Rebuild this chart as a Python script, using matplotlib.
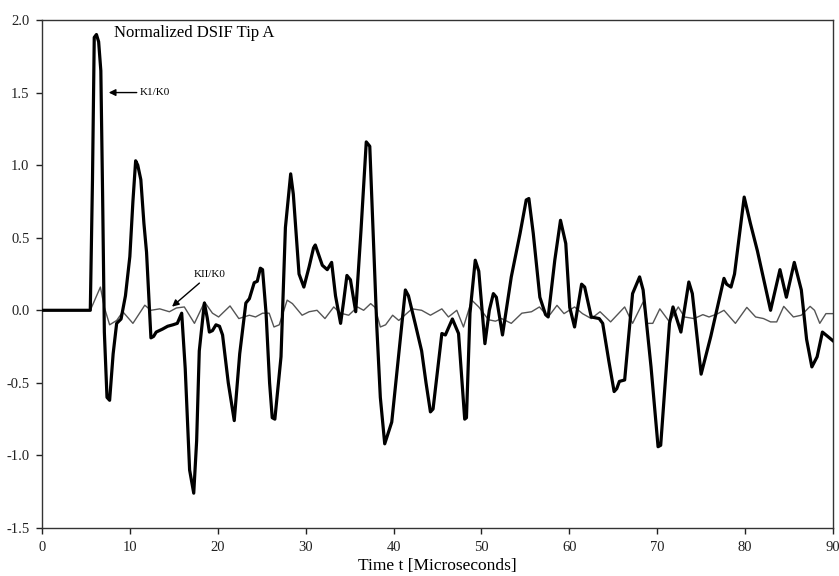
import matplotlib
matplotlib.use("Agg")
import matplotlib.pyplot as plt

plt.rcParams['font.family'] = ['Liberation Serif', 'DejaVu Serif']

k1_t = [0, 5.5, 5.75, 5.95, 6.2, 6.45, 6.7, 6.9, 7.1, 7.4, 7.7, 8.1, 8.5, 9.0, 9.5, 10.0, 10.35,
        10.66, 10.9, 11.25, 11.6, 11.9, 12.4, 12.7, 13.0, 13.7, 14.3, 14.9, 15.4, 15.9, 16.3, 16.8,
        17.27, 17.6, 17.9, 18.48, 18.8, 19.05, 19.4, 19.8, 20.2, 20.55, 21.2, 21.88, 22.5, 23.2,
        23.6, 24.15, 24.5, 24.85, 25.1, 25.5, 25.9, 26.2, 26.5, 27.2, 27.7, 28.3, 28.6, 29.25,
        29.8, 30.4, 30.9, 31.1, 31.5, 31.9, 32.46, 32.96, 33.4, 33.98, 34.3, 34.7, 35.1, 35.7,
        36.3, 36.9, 37.3, 37.7, 38.1, 38.5, 39.0, 39.8, 40.6, 41.35, 41.7, 42.5, 43.2, 43.7,
        44.2, 44.5, 45.5, 45.9, 46.7, 47.4, 48.1, 48.3, 48.7, 49.3, 49.7, 50.4, 50.9, 51.36,
        51.7, 52.4, 53.4, 54.4, 55.1, 55.4, 55.9, 56.65, 57.3, 57.6, 58.35, 59.0, 59.6, 60.05,
        60.6, 61.4, 61.75, 62.5, 63.4, 63.8, 64.5, 65.1, 65.4, 65.7, 66.3, 67.2, 68.0, 68.4,
        69.3, 70.1, 70.4, 71.4, 71.8, 72.7, 73.6, 74.0, 75.0, 76.1, 77.6, 77.9, 78.4, 78.8,
        79.9, 80.6, 81.4, 82.9, 83.97, 84.7, 85.6, 86.4, 87.0, 87.6, 88.2, 88.8, 89.8, 90.0]
k1_val = [0, 0, 0.9, 1.88, 1.9, 1.85, 1.65, 0.8, -0.15, -0.6, -0.62, -0.3, -0.09, -0.06, 0.1, 0.37, 0.75,
          1.03, 1.0, 0.9, 0.6, 0.4, -0.19, -0.18, -0.15, -0.13, -0.11, -0.10, -0.09, -0.02, -0.4, -1.10,
          -1.26, -0.9, -0.28, 0.05, -0.05, -0.15, -0.14, -0.10, -0.11, -0.17, -0.5, -0.76, -0.3, 0.05,
          0.08, 0.19, 0.2, 0.29, 0.28, -0.02, -0.5, -0.74, -0.75, -0.32, 0.57, 0.94, 0.8, 0.25,
          0.16, 0.30, 0.43, 0.45, 0.38, 0.31, 0.28, 0.33, 0.1, -0.09, 0.05, 0.24, 0.21, -0.01,
          0.55, 1.16, 1.13, 0.5, -0.115, -0.6, -0.92, -0.77, -0.3, 0.14, 0.10, -0.1, -0.28, -0.5,
          -0.70, -0.68, -0.16, -0.17, -0.06, -0.16, -0.75, -0.74, -0.02, 0.345, 0.27, -0.23, 0.0, 0.115,
          0.09, -0.17, 0.23, 0.53, 0.76, 0.77, 0.53, 0.09, -0.03, -0.046, 0.345, 0.62, 0.46, 0.02,
          -0.115, 0.18, 0.16, -0.046, -0.057, -0.09, -0.35, -0.56, -0.54, -0.49, -0.48, 0.115, 0.23, 0.14,
          -0.39, -0.94, -0.93, -0.09, 0.023, -0.15, 0.195, 0.115, -0.44, -0.18, 0.22, 0.18, 0.16, 0.25,
          0.78, 0.6, 0.41, 0.0, 0.28, 0.09, 0.33, 0.14, -0.2, -0.39, -0.32, -0.15, -0.20, -0.21]

k2_t = [0, 5.5, 6.65, 7.1, 7.7, 8.5, 9.2, 10.35, 11.0, 11.7, 12.4, 13.4, 14.5, 15.3, 16.2, 17.35,
        18.5, 19.4, 20.1, 21.4, 22.4, 23.6, 24.3, 25.1, 25.85, 26.4, 27.0, 27.9, 28.5, 29.6, 30.4,
        31.3, 32.2, 33.2, 33.98, 34.9, 35.9, 36.6, 37.4, 37.9, 38.5, 39.1, 39.9, 40.6, 42.1, 43.2,
        44.2, 45.5, 46.25, 47.2, 47.96, 48.9, 49.7, 50.8, 51.6, 52.3, 53.4, 54.6, 55.7, 56.6, 57.6,
        58.6, 59.4, 60.6, 61.5, 62.5, 63.5, 64.7, 66.3, 67.2, 68.4, 68.9, 69.5, 70.3, 71.4, 72.4,
        73.1, 74.2, 75.2, 75.9, 76.9, 77.6, 78.9, 80.2, 81.2, 82.1, 82.9, 83.6, 84.4, 85.5, 86.4,
        87.4, 87.9, 88.5, 89.2, 90.0]
k2_val = [0, 0, 0.16, 0.02, -0.10, -0.07, -0.01, -0.09, -0.03, 0.035, 0.0, 0.01, -0.01, 0.016, 0.023, -0.09,
          0.057, -0.02, -0.046, 0.03, -0.057, -0.034, -0.046, -0.02, -0.02, -0.115, -0.10, 0.07, 0.046, -0.034, -0.01,
          0.0, -0.057, 0.023, -0.02, -0.034, 0.023, 0.0, 0.046, 0.02, -0.115, -0.10, -0.034, -0.07, 0.01, 0.0,
          -0.034, 0.01, -0.046, 0.0, -0.115, 0.07, 0.023, -0.065, -0.075, -0.057, -0.09, -0.02, -0.01, 0.023, -0.046,
          0.034, -0.023, 0.023, -0.023, -0.057, -0.01, -0.08, 0.023, -0.09, 0.057, -0.09, -0.09, 0.01, -0.08, 0.023,
          -0.046, -0.057, -0.03, -0.046, -0.023, 0.0, -0.09, 0.02, -0.046, -0.057, -0.08, -0.08, 0.027, -0.046, -0.034,
          0.027, 0.0, -0.09, -0.023, -0.023]

x_ticks = [0, 10, 20, 30, 40, 50, 60, 70, 80, 90]
y_ticks = [-1.5, -1.0, -0.5, 0.0, 0.5, 1.0, 1.5, 2.0]

fig = plt.figure(figsize=(8.39, 5.76), dpi=100)
ax = fig.add_axes([0.050, 0.0833, 0.9428, 0.882])

ax.plot(k2_t, k2_val, color='#555555', linewidth=1.0, zorder=2)
ax.plot(k1_t, k1_val, color='black', linewidth=2.3, zorder=3)

ax.set_xlim(0, 90)
ax.set_ylim(-1.5, 2.0)
ax.set_xticks(x_ticks)
ax.set_xticklabels([str(v) for v in x_ticks])
ax.set_yticks(y_ticks)
ax.set_yticklabels([f"{v:.1f}" for v in y_ticks])
ax.tick_params(direction='out', length=4, width=1, labelsize=10.5, pad=5, colors='#222222')
for s in ax.spines.values():
    s.set_linewidth(1.0)
    s.set_color('#333333')

ax.set_xlabel("Time t [Microseconds]", fontsize=12.5, labelpad=3)

ax.text(8.2, 1.91, "Normalized DSIF Tip A", fontsize=12, va='center', ha='left')

ax.annotate("K1/K0", xy=(7.6, 1.5), xytext=(11.1, 1.5), fontsize=8, va='center', ha='left',
            arrowprops=dict(arrowstyle='-|>', color='black', lw=1.0, mutation_scale=10, shrinkA=0, shrinkB=0))
ax.annotate("KII/K0", xy=(14.8, 0.025), xytext=(17.3, 0.25), fontsize=8, va='center', ha='left',
            arrowprops=dict(arrowstyle='-|>', color='black', lw=1.0, mutation_scale=10, shrinkA=2, shrinkB=0))

fig.savefig("out.png", dpi=100)
